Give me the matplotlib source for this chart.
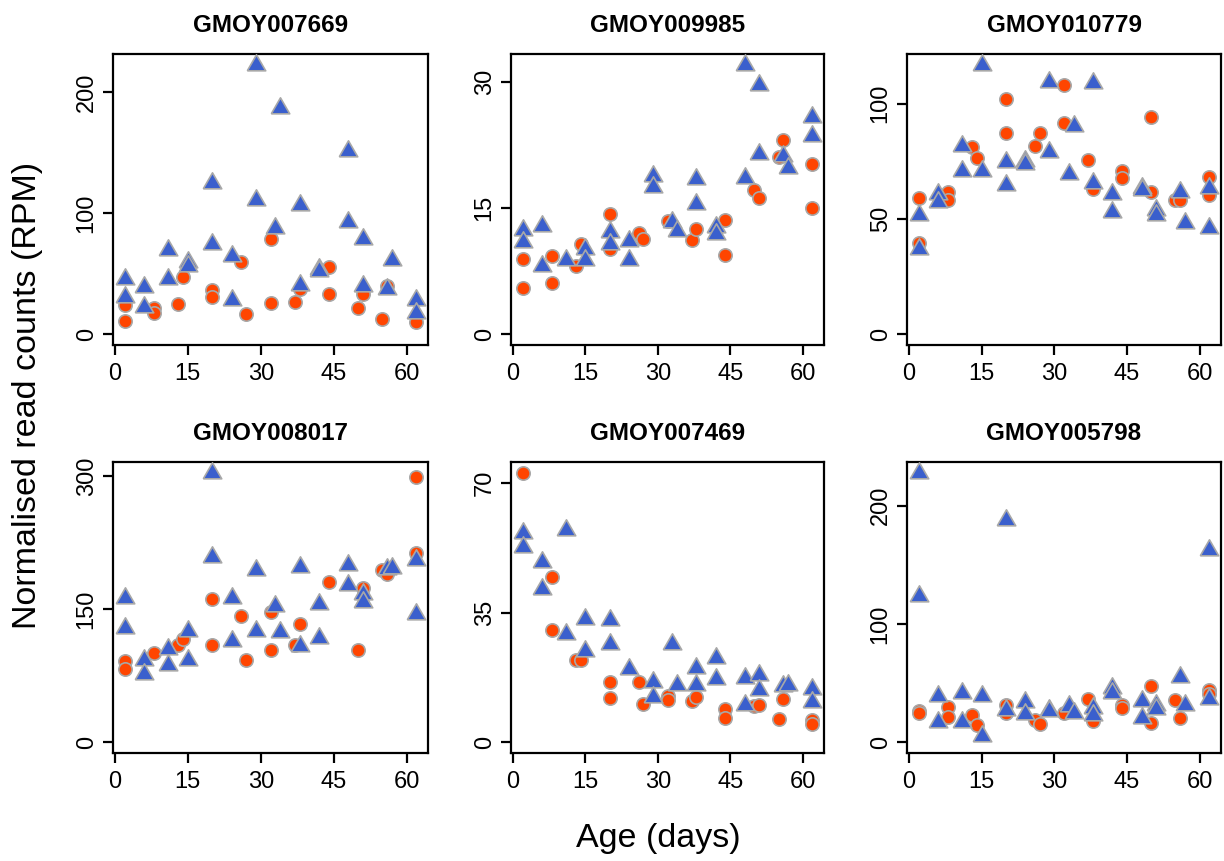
import matplotlib
matplotlib.use("Agg")
import matplotlib.pyplot as plt

plt.rcParams["font.family"] = ["Liberation Sans", "DejaVu Sans"]

# Gene names, one per panel
genes = ["GMOY007669", "GMOY009985", "GMOY010779",
         "GMOY008017", "GMOY007469", "GMOY005798"]

x_ticks = [0, 15, 30, 45, 60]
y_ticks = [[0, 100, 200], [0, 15, 30], [0, 50, 100],
           [0, 150, 300], [0, 35, 70], [0, 100, 200]]

# GMOY007669
g1_circ_x = [2, 2, 8, 8, 13, 14, 20, 20, 26, 27, 32, 32, 37, 38, 44, 44, 50, 51, 55, 56, 62]
g1_circ_y = [23.8, 10.9, 21.9, 17.2, 24.6, 47, 36.3, 30.9, 59.3, 16.4, 78.7, 26, 26.8, 37.4,
             55.5, 33.6, 21.9, 33.6, 12.3, 39.6, 10.1]
g1_tri_x = [2, 2, 6, 6, 11, 11, 15, 15, 20, 20, 24, 24, 29, 29, 33, 34, 38, 38, 42, 42,
            48, 48, 51, 51, 56, 57, 62, 62]
g1_tri_y = [45.6, 30.9, 39, 22.7, 70, 45.6, 60, 56, 125, 74.6, 64.8, 28, 222.7, 111, 87.4, 187,
            107, 41, 54, 52, 151.6, 93, 78.4, 39.6, 37.4, 61, 28, 17.2]

# GMOY009985
g2_circ_x = [2, 2, 8, 8, 13, 14, 20, 20, 26, 27, 32, 37, 38, 44, 44, 50, 51, 55, 56, 62, 62]
g2_circ_y = [8.95, 5.5, 9.3, 6.1, 8.13, 10.72, 14.25, 10.1, 11.97, 11.27, 13.47, 11.19, 12.49,
             13.55, 9.42, 17.08, 16.2, 21.08, 23.05, 20.2, 15.0]
g2_tri_x = [2, 2, 6, 6, 11, 15, 15, 20, 20, 24, 24, 29, 29, 33, 34, 38, 38, 42, 42,
            48, 48, 51, 51, 56, 57, 62, 62]
g2_tri_y = [12.37, 11.0, 12.84, 8.13, 8.83, 10.1, 8.76, 12.17, 10.72, 11.1, 8.76, 18.85, 17.47,
            13.35, 12.29, 18.45, 15.5, 12.7, 11.9, 18.57, 32.0, 29.56, 21.4, 21.2, 19.75,
            25.8, 23.56]

# GMOY010779
g3_circ_x = [2, 2, 8, 8, 13, 14, 20, 20, 26, 27, 32, 32, 37, 38, 44, 44, 50, 50, 55, 56, 62, 62]
g3_circ_y = [59.3, 39.7, 61.7, 58.4, 81.1, 76.3, 101.9, 87.1, 81.8, 87.5, 108, 91.8, 75.6, 63.1,
             71, 67.7, 94.3, 61.7, 58.4, 58.4, 68.4, 60.3]
g3_tri_x = [2, 2, 6, 6, 11, 11, 15, 15, 20, 20, 24, 24, 29, 29, 33, 34, 38, 38, 42, 42,
            48, 48, 51, 51, 56, 57, 62, 62]
g3_tri_y = [51.6, 36.9, 60.7, 57.4, 81.8, 71, 116.9, 71, 74.6, 64.6, 75, 74, 109.5, 78.9, 69.6,
            90.4, 109, 65.6, 60.7, 53.1, 63.6, 62.5, 54.1, 51.6, 61.7, 48.3, 63.6, 45.9]

# GMOY008017
g4_circ_x = [2, 2, 8, 13, 14, 20, 20, 26, 27, 32, 32, 37, 38, 44, 50, 51, 55, 56, 62, 62]
g4_circ_y = [91.5, 82.2, 100.4, 110.1, 116.4, 161.1, 110.1, 141.7, 93, 146.2, 103.4, 110.1, 133.2,
             180.8, 104.2, 173.4, 193.5, 189.7, 298.7, 213.2]
g4_tri_x = [2, 2, 6, 6, 11, 11, 15, 15, 20, 20, 24, 24, 29, 29, 33, 34, 38, 38, 42, 42,
            48, 48, 51, 51, 56, 57, 62, 62]
g4_tri_y = [163, 128.7, 93, 76.6, 105.3, 86.7, 125, 93, 303.6, 208.3, 163, 114.6, 194.6, 125.7,
            153.6, 123.9, 197.2, 107.9, 156.3, 117.6, 199.4, 177, 166.7, 158.5, 195.7, 196.4,
            205.7, 144.3]

# GMOY007469
g5_circ_x = [2, 8, 8, 13, 14, 20, 20, 26, 27, 32, 32, 37, 38, 44, 44, 50, 51, 55, 56, 62, 62]
g5_circ_y = [72.7, 44.5, 30.2, 22.1, 22.1, 16.2, 11.9, 16.2, 10.4, 12.6, 11.3, 11.0, 12.2,
             9.0, 6.6, 9.9, 10.1, 6.3, 11.7, 6.1, 4.8]
g5_tri_x = [2, 2, 6, 6, 11, 11, 15, 15, 20, 20, 24, 29, 29, 33, 34, 38, 38, 42, 42,
            48, 48, 51, 51, 56, 57, 62, 62]
g5_tri_y = [56.4, 52.6, 48.7, 41.3, 57.3, 29.3, 33.2, 24.5, 32.9, 26.5, 19.7, 16.2, 12.2, 26.5,
            15.5, 20.0, 15.5, 22.7, 17.1, 17.3, 10.1, 18.2, 14.2, 15.1, 15.5, 14.4, 10.8]

# GMOY005798
g6_circ_x = [2, 2, 8, 8, 13, 14, 20, 20, 26, 27, 32, 37, 38, 44, 44, 50, 50, 55, 56, 62, 62]
g6_circ_y = [26.8, 24.6, 29.6, 21.2, 23.2, 14.8, 31.6, 24.6, 19, 15.6, 24.6, 36.3, 17.6,
             31.6, 28.8, 47.5, 16.2, 35.8, 20.4, 44.1, 40.8]
g6_tri_x = [2, 2, 6, 6, 11, 11, 15, 15, 20, 20, 24, 24, 29, 29, 33, 34, 38, 38, 42, 42,
            48, 48, 51, 51, 56, 57, 62, 62]
g6_tri_y = [227.9, 123.7, 39.1, 16.8, 41.3, 16.8, 39.1, 5.6, 188, 27.4, 34.4, 24, 27.4, 26,
            30.7, 24.6, 28.8, 23.2, 45.5, 41.9, 35.2, 20.4, 31.6, 27.9, 55.3, 31.6, 162.8, 36.3]

panels = [
    (g1_circ_x, g1_circ_y, g1_tri_x, g1_tri_y),
    (g2_circ_x, g2_circ_y, g2_tri_x, g2_tri_y),
    (g3_circ_x, g3_circ_y, g3_tri_x, g3_tri_y),
    (g4_circ_x, g4_circ_y, g4_tri_x, g4_tri_y),
    (g5_circ_x, g5_circ_y, g5_tri_x, g5_tri_y),
    (g6_circ_x, g6_circ_y, g6_tri_x, g6_tri_y),
]

ORANGE = "#FF4500"
BLUE = "#3A5FCD"
EDGE = "#A8A8A8"

# Equilateral triangle centred on its centroid (like R's pch 24)
TRIANGLE = [(-1, -0.577), (1, -0.577), (0, 1.155), (-1, -0.577)]

W, H = 1224, 861
fig = plt.figure(figsize=(W / 100, H / 100), dpi=100)

# Panel boxes in pixels: left, right, top, bottom
cols = [(113, 428), (511, 824), (907, 1221)]
rows = [(54, 345), (462, 753)]

for i, (cx, cy, tx, ty) in enumerate(panels):
    left, right = cols[i % 3]
    top, bottom = rows[i // 3]
    ax = fig.add_axes([left / W, 1 - bottom / H, (right - left) / W, (bottom - top) / H])

    ax.scatter(cx, cy, s=92, marker="o", facecolor=ORANGE, edgecolor=EDGE,
               linewidth=1.2, zorder=3)
    ax.scatter(tx, ty, s=235, marker=TRIANGLE, facecolor=BLUE, edgecolor=EDGE,
               linewidth=1.2, zorder=4)

    # R style axis ranges: data range padded by 4%, y starting from zero
    xs = cx + tx
    xlo, xhi = min(xs), max(xs)
    xpad = 0.04 * (xhi - xlo)
    ax.set_xlim(xlo - xpad, xhi + xpad)
    ymax = max(cy + ty)
    ax.set_ylim(-0.04 * ymax, 1.04 * ymax)

    ax.set_xticks(x_ticks)
    ax.set_yticks(y_ticks[i])
    ax.tick_params(axis="both", direction="out", length=7, width=1.6,
                   labelsize=17, color="black")
    ax.tick_params(axis="x", pad=6)
    ax.tick_params(axis="y", pad=4)
    for lab in ax.get_yticklabels():
        lab.set_rotation(90)
        lab.set_va("center")
    for sp in ax.spines.values():
        sp.set_linewidth(1.6)

    ax.set_title(genes[i], fontsize=17.5, fontweight="bold", pad=16)

fig.text(28 / W, 1 - 395 / H, "Normalised read counts (RPM)", rotation=90,
         ha="center", va="center", fontsize=24.5)
fig.text(658 / W, 1 - 839 / H, "Age (days)", ha="center", va="center", fontsize=24.5)

fig.savefig("out.png", dpi=100)
